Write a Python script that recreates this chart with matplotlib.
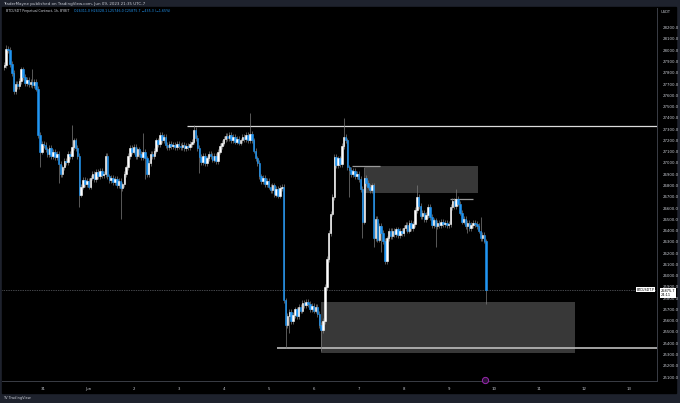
import numpy as np
import matplotlib
import matplotlib.pyplot as plt
from matplotlib.patches import Rectangle

matplotlib.use('Agg')

# hour 0 = Jun 1 00:00 (chart time), 1h candles
FIRST_HOUR = -45
FIRST_OPEN = 27850

closes = (
    # May 30 03:00 .. May 31 00:00
    [27870, 28010, 28000, 27880, 27800, 27640, 27700, 27680, 27730, 27830, 27760,
     27710, 27740, 27700, 27720, 27690, 27720, 27660, 27250, 27100, 27170, 27160]
    # May 31
    + [27120, 27080, 27130, 27060, 27100, 27050, 27080, 26990, 26900, 26960, 27020, 27010,
       27080, 27060, 27140, 27200, 27130, 27060, 26720, 26790, 26850, 26810, 26840, 26790]
    # Jun 1
    + [26870, 26900, 26860, 26920, 26880, 26930, 26890, 26900, 27060, 26880, 26850, 26870,
       26830, 26860, 26800, 26840, 26780, 26810, 26900, 26960, 27060, 27130, 27100, 27140]
    # Jun 2
    + [27060, 27120, 27080, 27050, 27100, 27040, 26900, 27000, 27080, 27060, 27110, 27200,
       27170, 27250, 27200, 27230, 27160, 27140, 27170, 27150, 27160, 27140, 27170, 27150]
    # Jun 3
    + [27140, 27160, 27130, 27150, 27140, 27170, 27190, 27290, 27220, 27130, 27050, 27010,
       27060, 27000, 27040, 27080, 27060, 27030, 27060, 27020, 27100, 27150, 27180, 27210]
    # Jun 4
    + [27240, 27220, 27250, 27200, 27230, 27190, 27210, 27180, 27200, 27230, 27210, 27250,
       27200, 27260, 27200, 27110, 27040, 27000, 26880, 26840, 26870, 26810, 26840, 26790]
    # Jun 5
    + [26760, 26800, 26720, 26770, 26710, 26780, 26790, 25780, 25560, 25640, 25680, 25600,
       25650, 25700, 25640, 25720, 25690, 25760, 25740, 25770, 25750, 25700, 25730, 25690]
    # Jun 6
    + [25720, 25660, 25560, 25520, 25600, 25900, 26150, 26380, 26550, 26700, 27050, 26980,
       27040, 26990, 27150, 27230, 27200, 26960, 26940, 26900, 26930, 26880, 26900, 26860]
    # Jun 7
    + [26770, 26480, 26870, 26820, 26790, 26760, 26800, 26330, 26500, 26320, 26440, 26380,
       26310, 26130, 26330, 26400, 26350, 26400, 26370, 26410, 26360, 26400, 26380, 26420]
    # Jun 8
    + [26450, 26400, 26470, 26420, 26460, 26580, 26700, 26620, 26530, 26560, 26500, 26540,
       26610, 26520, 26450, 26490, 26440, 26470, 26450, 26480, 26460, 26470, 26450, 26460]
    # Jun 9
    + [26610, 26660, 26620, 26680, 26640, 26560, 26480, 26500, 26440, 26470, 26420, 26450,
       26470, 26460, 26440, 26400, 26330, 26360, 26311, 25875.7]
)

# wicks that stick out well beyond their body
spike_high = {-44: 28050, -30: 27830, -9: 27340, 29: 27265, 56: 27335, 86: 27445,
              136: 27400, 147: 26965, 175: 26805, 196: 26770, 209: 26520, 212: 26328.1}
spike_low = {-26: 26960, -16: 26820, -5: 26610, 17: 26500, 30: 26860, 59: 26910,
             105: 25355, 107: 25490, 124: 25330, 139: 26700, 146: 26330, 152: 26250,
             156: 26210, 158: 26100, 185: 26250, 202: 26380, 212: 25746}

day_ticks = [-24, 0, 24, 48, 72, 96, 120, 144, 168, 192, 216, 240, 264, 288]
day_labels = ['31', 'Jun', '2', '3', '4', '5', '6', '7', '8', '9', '10', '11', '12', '13']
price_ticks = list(range(25100, 28201, 100))

resistance = 27328
support = 25356
box_top = (26733, 26973)
box_low = (25314, 25769)
short_line = 26677
last_price = 25875.7

UP = '#ffffff'
DOWN = '#2196f3'
WICK = '#7c7c7c'
TXT = '#c9ccd4'

closes = np.array(closes, dtype=float)
hours = FIRST_HOUR + np.arange(len(closes))
opens = np.concatenate([[FIRST_OPEN], closes[:-1]])
highs = np.maximum(opens, closes) + 25
lows = np.minimum(opens, closes) - 25
for h, v in spike_high.items():
    highs[h - FIRST_HOUR] = v
for h, v in spike_low.items():
    lows[h - FIRST_HOUR] = v

W, H = 680, 403
fig = plt.figure(figsize=(6.8, 4.03), dpi=100, facecolor='#1e222d')
fig.patches.append(Rectangle((2 / W, 1 - 393 / H), 674 / W, 386 / H,
                             transform=fig.transFigure, color='black', zorder=-5))
ax = fig.add_axes([2 / W, 1 - 381 / H, 655 / W, 373 / H], facecolor='black')

# zones
ax.add_patch(Rectangle((147.4, box_top[0]), 60.2, box_top[1] - box_top[0],
                       color='#383838', lw=0, zorder=1))
ax.add_patch(Rectangle((124.0, box_low[0]), 135.4, box_low[1] - box_low[0],
                       color='#383838', lw=0, zorder=1))
ax.hlines(resistance, 52.4, 310, color='#dcdcdc', lw=0.9, zorder=2)
ax.hlines(support, 100.4, 310, color='#bdbdbd', lw=1.2, zorder=2)
ax.hlines(box_top[1], 140.4, 155.4, color='#9a9a9a', lw=0.9, zorder=2)
ax.hlines(short_line, 192.7, 205.0, color='#9a9a9a', lw=0.9, zorder=2)
ax.axhline(last_price, color='#8a8d96', lw=0.5, ls=(0, (1, 1.5)), zorder=2)

# candles
up = closes >= opens
colors = np.where(up, UP, DOWN)
ax.vlines(hours, lows, highs, color=WICK, lw=0.5, zorder=3)
body = np.where(np.abs(closes - opens) < 8, 8, closes - opens)
ax.bar(hours, body, bottom=opens, width=0.8, color=colors, edgecolor=colors,
       lw=0.4, zorder=4)

ax.set_xlim(-46.2, 303.1)
ax.set_ylim(25065, 28375)

ax.yaxis.tick_right()
ax.set_yticks(price_ticks, [f'{p:.1f}' for p in price_ticks])
ax.set_xticks(day_ticks, day_labels)
ax.tick_params(axis='y', length=0, labelsize=2.8, colors=TXT, pad=4)
ax.tick_params(axis='x', length=0, labelsize=2.8, colors=TXT, pad=4)
for s in ['top', 'left']:
    ax.spines[s].set_visible(False)
for s in ['right', 'bottom']:
    ax.spines[s].set_color('#3a3d46')
    ax.spines[s].set_linewidth(0.7)

# last price label and event marker
ax.text(1.006, last_price - 30, '25875.7\n24:11', transform=ax.get_yaxis_transform(),
        fontsize=2.5, color='black', va='center', ha='left', zorder=6, clip_on=False,
        linespacing=1.1, bbox=dict(boxstyle='square,pad=0.25', fc='white', ec='none'))
ax.text(0.996, last_price, 'BTCUSDT.P', transform=ax.get_yaxis_transform(),
        fontsize=2.3, color='black', va='center', ha='right', zorder=6,
        bbox=dict(boxstyle='square,pad=0.25', fc='white', ec='none'))
ax.plot([211.5], [0.004], 'o', transform=ax.get_xaxis_transform(), ms=4.5,
        mfc='#2a1236', mec='#9c27b0', mew=0.7, clip_on=False, zorder=6)

# texts
fig.text(3 / W, 1 - 3.5 / H, 'TraderMayne published on TradingView.com, Jun 09, 2023 21:35 UTC-7',
         fontsize=2.9, color=TXT, va='center', ha='left')
fig.text(6 / W, 1 - 11 / H, 'BTCUSDT Perpetual Contract, 1h, BYBIT',
         fontsize=2.3, color=TXT, va='center', ha='left')
fig.text(74 / W, 1 - 11 / H, 'O26311.0 H26328.1 L25746.0 C25875.7 \u2212435.3 (\u22121.65%)',
         fontsize=2.3, color=DOWN, va='center', ha='left')
fig.text(661 / W, 1 - 12 / H, 'USDT', fontsize=2.6, color=TXT, va='center', ha='left')
fig.text(3 / W, 1 - 398 / H, 'TV TradingView', fontsize=2.6, color=TXT,
         va='center', ha='left')

plt.savefig('out.png', dpi=100, facecolor=fig.get_facecolor())
